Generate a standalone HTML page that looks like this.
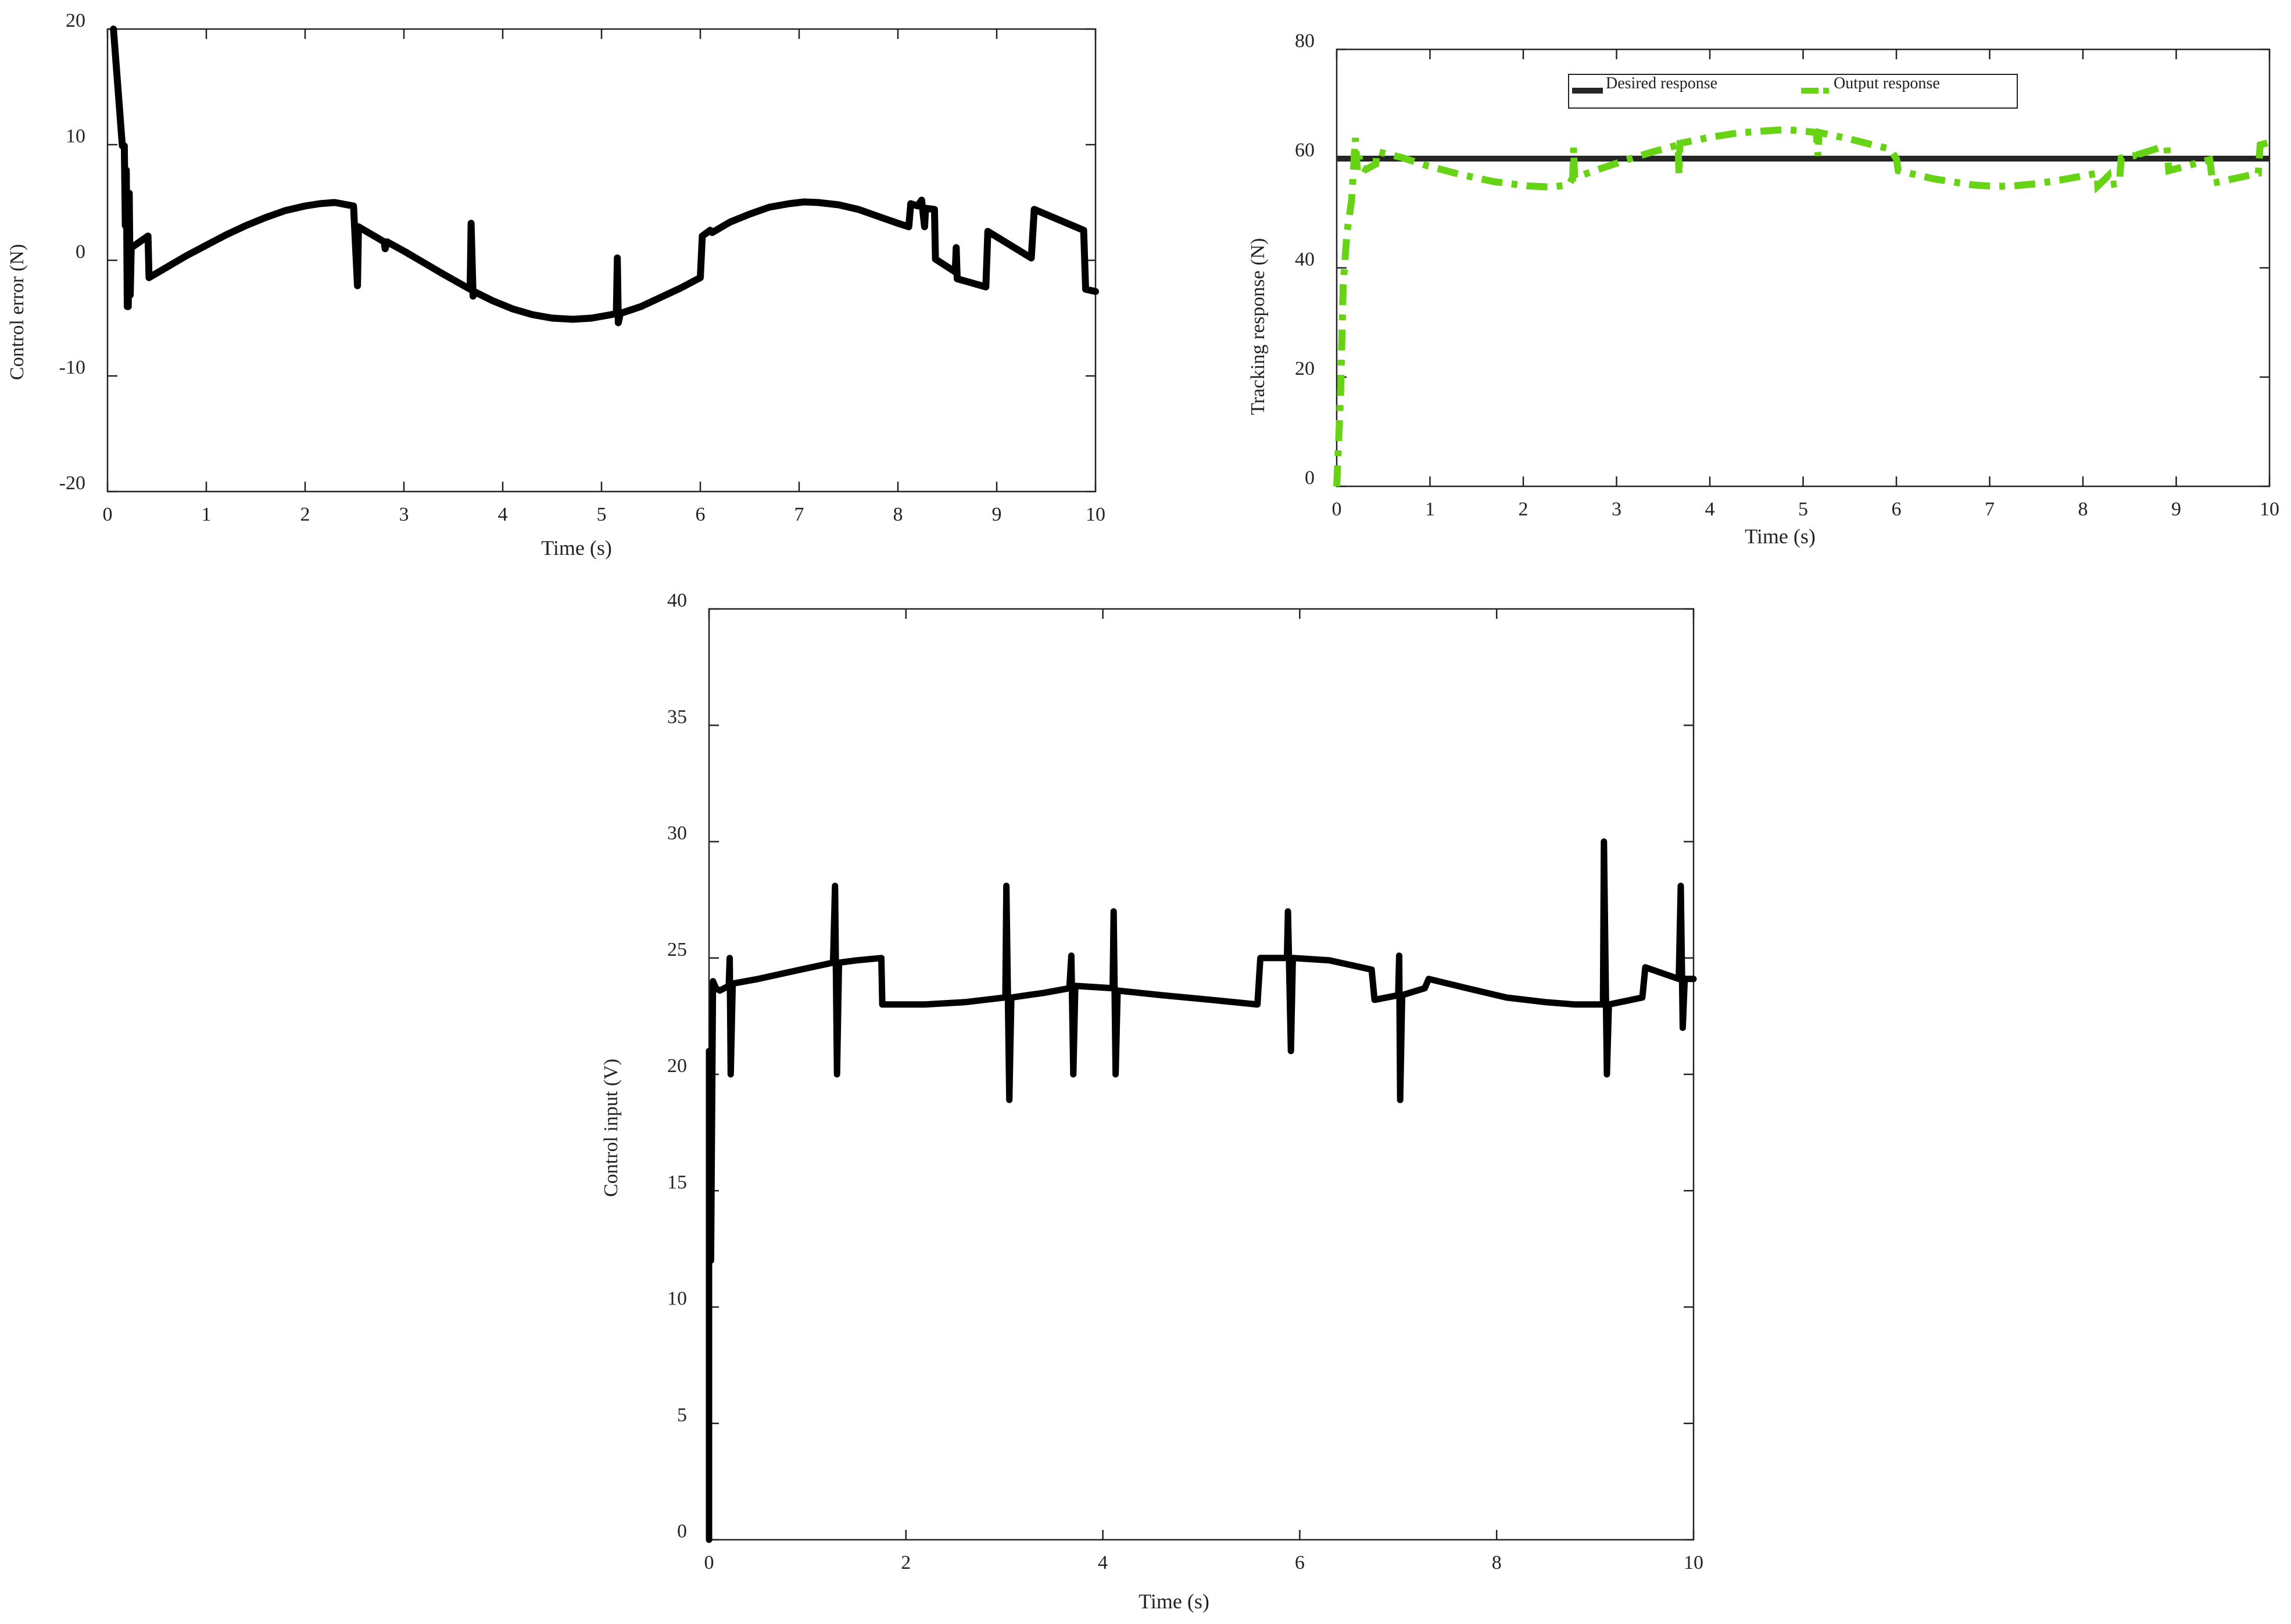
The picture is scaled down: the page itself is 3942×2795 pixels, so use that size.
<!DOCTYPE html>
<html><head><meta charset="utf-8"><style>
html,body{margin:0;padding:0;background:#fff;}
svg{display:block;font-family:"Liberation Serif",serif;}
</style></head><body>
<svg id="svg" width="3942" height="2795" viewBox="0 0 3942 2795" xmlns="http://www.w3.org/2000/svg"></svg>
<script>
// ---- Chart 1: control error ----
const errT = [0.06,0.15,0.17,0.18,0.19,0.2,0.21,0.22,0.23,0.24,0.25,0.26,0.41,0.42,0.6,0.8,1.0,1.2,1.4,1.6,1.8,2.0,2.15,2.3,2.49,2.53,2.54,2.8,2.81,2.83,3.0,3.2,3.4,3.67,3.68,3.7,3.71,3.9,4.1,4.3,4.5,4.71,4.9,5.1,5.15,5.16,5.17,5.19,5.4,5.6,5.8,6.0,6.02,6.1,6.12,6.3,6.5,6.7,6.9,7.05,7.19,7.4,7.6,7.8,8.0,8.11,8.13,8.2,8.24,8.27,8.28,8.37,8.38,8.58,8.59,8.6,8.89,8.91,9.35,9.38,9.88,9.9,10.0];
const errV = [20,9.9,9.9,3,7.8,-4,-4,5.8,-3,1.1,1.2,1.2,2.1,-1.5,-0.6,0.4,1.3,2.2,3.0,3.7,4.3,4.7,4.9,5.0,4.7,-2.2,2.9,1.6,1.0,1.6,0.8,-0.2,-1.2,-2.5,3.2,-3.1,-2.7,-3.5,-4.2,-4.7,-5.0,-5.1,-5.0,-4.7,-4.6,0.2,-5.4,-4.6,-4.0,-3.2,-2.4,-1.5,2.1,2.6,2.4,3.3,4.0,4.6,4.9,5.05,5.0,4.8,4.4,3.8,3.2,2.9,4.9,4.7,5.2,2.9,4.5,4.4,0.1,-1.0,1.1,-1.6,-2.3,2.5,0.2,4.4,2.6,-2.5,-2.7];
const errYTicks = [20,10,0,-10,-20];
const errXTicks = [0,1,2,3,4,5,6,7,8,9,10];
// ---- Chart 2: tracking response ----
const desiredT = [0,10];
const desiredV = [60,60];
const outT = [0,0.04,0.07,0.11,0.16,0.2,0.22,0.24,0.26,0.31,0.42,0.43,0.7,0.95,1.3,1.68,2.05,2.3,2.49,2.53,2.54,2.55,2.85,3.15,3.4,3.66,3.67,3.68,4.0,4.3,4.61,4.8,4.98,5.14,5.16,5.17,5.5,5.75,5.93,6.0,6.02,6.4,6.81,7.05,7.25,7.5,7.76,8.15,8.16,8.27,8.28,8.39,8.41,8.57,8.58,8.6,8.84,8.9,8.92,9.36,9.39,9.88,9.9,10.0];
const outV = [0,16,37,46.5,52.5,63.8,58,60.5,58.5,58,59,61.3,60.2,58.8,57.2,55.8,55,54.8,55.2,56.5,62,56.5,58.3,60,61.3,62.5,57,62.8,63.9,64.7,65.1,65.3,65.1,64.8,60.5,64.8,63.6,62.5,61.8,60,57.8,56.3,55.2,54.9,55,55.4,56.1,57.3,55,56.8,55.2,55.5,60.1,60.6,59.6,60.8,62.1,62.1,57.8,59.8,55.5,57.3,62.5,63];
const trkYTicks = [0,20,40,60,80];
const trkXTicks = [0,1,2,3,4,5,6,7,8,9,10];
// ---- Chart 3: control input ----
const inT = [0,0,0.02,0.04,0.07,0.11,0.2,0.21,0.22,0.24,0.5,0.93,1.26,1.28,1.3,1.32,1.5,1.75,1.76,2.19,2.6,3.0,3.01,3.02,3.05,3.07,3.4,3.66,3.68,3.7,3.72,4.1,4.11,4.13,4.15,4.6,5.1,5.57,5.6,5.87,5.88,5.91,5.93,6.3,6.73,6.76,7.0,7.01,7.02,7.04,7.27,7.31,7.7,8.1,8.5,8.8,9.08,9.09,9.12,9.14,9.48,9.51,9.85,9.87,9.89,9.91,10.0];
const inV = [0,21,12,24,23.7,23.6,23.8,25,20,23.9,24.1,24.5,24.8,28.1,20,24.8,24.9,25,23,23,23.1,23.3,23.3,28.1,18.9,23.3,23.5,23.7,25.1,20,23.8,23.7,27,20,23.6,23.4,23.2,23,25,25,27,21,25,24.9,24.5,23.2,23.4,25.1,18.9,23.4,23.7,24.1,23.7,23.3,23.1,23,23,30,20,23,23.3,24.6,24.1,28.1,22,24.1,24.1];
const inYTicks = [0,5,10,15,20,25,30,35,40];
const inXTicks = [0,2,4,6,8,10];

const NS = "http://www.w3.org/2000/svg";
const svg = document.getElementById('svg');
function el(tag, attrs, parent){ const e=document.createElementNS(NS,tag); for(const k in attrs) e.setAttribute(k,attrs[k]); (parent||svg).appendChild(e); return e; }

function makeAxes(g, box, xmin,xmax,ymin,ymax){
  const sx = v => box.l + (v-xmin)/(xmax-xmin)*(box.r-box.l);
  const sy = v => box.b - (v-ymin)/(ymax-ymin)*(box.b-box.t);
  return {sx, sy};
}

function drawFrame(g, box, ax, xt, yt, fs){
  const fr = el('rect',{x:box.l,y:box.t,width:box.r-box.l,height:box.b-box.t,fill:'none',stroke:'#222','stroke-width':2.5},g);
  
  
  xt.forEach(v=>{
    const x=ax.sx(v);
    const t1=el('line',{x1:x,y1:box.b,x2:x,y2:box.b-17,stroke:'#222','stroke-width':2.5},g);
    
    
    const t2=el('line',{x1:x,y1:box.t,x2:x,y2:box.t+17,stroke:'#222','stroke-width':2.5},g);
    
    
    const lb=el('text',{x:x,y:box.b+50,'font-size':fs,'text-anchor':'middle',fill:'#222'},g);
    lb.textContent=v;
    
    
  });
  yt.forEach(v=>{
    const y=ax.sy(v);
    const t1=el('line',{x1:box.l,y1:y,x2:box.l+17,y2:y,stroke:'#222','stroke-width':2.5},g);
    
    
    const t2=el('line',{x1:box.r,y1:y,x2:box.r-17,y2:y,stroke:'#222','stroke-width':2.5},g);
    
    
    const lb=el('text',{x:box.l-38,y:y-4,'font-size':fs,'text-anchor':'end',fill:'#222'},g);
    lb.textContent=v;
    
    
  });
}
function pathD(ax,T,V){ return T.map((t,i)=>(i?'L':'M')+ax.sx(t).toFixed(1)+','+ax.sy(V[i]).toFixed(1)).join(' '); }
function title(g,txt,x,y,rot,fs,name){
  const t=el('text',{x:x,y:y,'font-size':fs,'text-anchor':'middle',fill:'#222'},g);
  if(rot) t.setAttribute('transform',`rotate(-90 ${x} ${y})`);
  t.textContent=txt;
  
  
}

// Chart 1
const g1=el('g',{});


const b1={l:185,r:1885,t:50,b:846};
const a1=makeAxes(g1,b1,0,10,-20,20);
drawFrame(g1,b1,a1,errXTicks,errYTicks,34);
const p1=el('path',{d:pathD(a1,errT,errV),fill:'none',stroke:'#000','stroke-width':12,'stroke-linejoin':'round','stroke-linecap':'round'},g1);


title(g1,'Time (s)',992,955,false,36,'x-axis-title');
title(g1,'Control error (N)',40,537,true,34,'y-axis-title');

// Chart 2
const g2=el('g',{});


const b2={l:2300,r:3905,t:85,b:837};
const a2=makeAxes(g2,b2,0,10,0,80);
drawFrame(g2,b2,a2,trkXTicks,trkYTicks,34);
const pd=el('path',{d:pathD(a2,desiredT,desiredV),fill:'none',stroke:'#262626','stroke-width':10},g2);


const po=el('path',{d:pathD(a2,outT,outV),fill:'none',stroke:'#66d314','stroke-width':12,'stroke-dasharray':'36 16 10 16'},g2);


title(g2,'Time (s)',3063,935,false,36,'x-axis-title');
title(g2,'Tracking response (N)',2175,562,true,34,'y-axis-title');
const lg=el('g',{},g2);


el('rect',{x:2699,y:128,width:772,height:58,fill:'#fff',stroke:'#222','stroke-width':2},lg);
const l1=el('line',{x1:2705,y1:156,x2:2758,y2:156,stroke:'#262626','stroke-width':10},lg);


const lt1=el('text',{x:2763,y:152,'font-size':28,fill:'#222'},lg);
lt1.textContent='Desired response';


const l2=el('line',{x1:3099,y1:156,x2:3152,y2:156,stroke:'#66d314','stroke-width':10,'stroke-dasharray':'30 8 10 8'},lg);


const lt2=el('text',{x:3155,y:152,'font-size':28,fill:'#222'},lg);
lt2.textContent='Output response';



// Chart 3
const g3=el('g',{});


const b3={l:1220,r:2914,t:1048,b:2650};
const a3=makeAxes(g3,b3,0,10,0,40);
drawFrame(g3,b3,a3,inXTicks,inYTicks,34);
const p3=el('path',{d:pathD(a3,inT,inV),fill:'none',stroke:'#000','stroke-width':11,'stroke-linejoin':'round','stroke-linecap':'round'},g3);


title(g3,'Time (s)',2020,2768,false,36,'x-axis-title');
title(g3,'Control input (V)',1062,1941,true,34,'y-axis-title');
</script>
</body></html>
